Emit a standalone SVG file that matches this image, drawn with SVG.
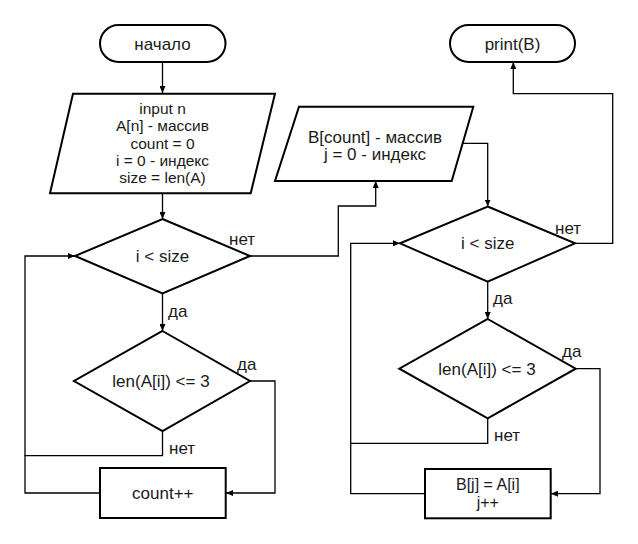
<svg xmlns="http://www.w3.org/2000/svg" width="638" height="544" viewBox="0 0 638 544">
<style>
.s{fill:#fff;stroke:#000;stroke-width:2}
.c{fill:none;stroke:#000;stroke-width:1.3}
text{font-family:"Liberation Sans",Arial,sans-serif;font-size:17px;fill:#1a1a1a}
.m{text-anchor:middle}
.sm{font-size:15.5px}
.b{font-size:16px}
</style>
<defs>
<marker id="a" markerUnits="userSpaceOnUse" markerWidth="8" markerHeight="6" refX="7" refY="3" orient="auto">
<path d="M0,0 L7,3 L0,6 z" fill="#000"/>
</marker>
</defs>
<rect width="638" height="544" fill="#fff"/>
<g id="connectors">
<path class="c" d="M162.5,62 V93" marker-end="url(#a)"/>
<path class="c" d="M162.5,193.5 V219" marker-end="url(#a)"/>
<path class="c" d="M162.5,293.5 V331" marker-end="url(#a)"/>
<path class="c" d="M162.5,431 V455.7 H25 V256 H75" marker-end="url(#a)"/>
<path class="c" d="M100,493 H25 V455"/>
<path class="c" d="M250,381 H275 V493 H226" marker-end="url(#a)"/>
<path class="c" d="M250,256 H338.3 V206 H375.7 V181" marker-end="url(#a)"/>
<path class="c" d="M463,143.3 H487.7 V206.5" marker-end="url(#a)"/>
<path class="c" d="M575,243.3 H612.7 V93.7 H513.3 V62" marker-end="url(#a)"/>
<path class="c" d="M487.7,281.7 V319" marker-end="url(#a)"/>
<path class="c" d="M487.7,418.3 V443.3 H350.7 V243.3 H400" marker-end="url(#a)"/>
<path class="c" d="M425,493.7 H350.7 V443"/>
<path class="c" d="M575.7,368.7 H600 V493.7 H551" marker-end="url(#a)"/>
<text x="229" y="245">нет</text>
<text x="168" y="316.7">да</text>
<text x="237" y="370">да</text>
<text x="169" y="454">нет</text>
<text x="555" y="233.7">нет</text>
<text x="493" y="304">да</text>
<text x="562" y="357">да</text>
<text x="494" y="441">нет</text>
</g>
<g id="start">
<rect class="s" x="100" y="25" width="125.5" height="37" rx="18.5"/>
<text class="m" x="162.5" y="49.5">начало</text>
</g>
<g id="input">
<polygon class="s" points="73,93.7 275,93.7 250.7,193.3 50,193.3"/>
<text class="m sm" x="162.5" y="114.3">input n</text>
<text class="m sm" x="162.5" y="131.4">A[n] - массив</text>
<text class="m sm" x="162.5" y="148.5">count = 0</text>
<text class="m sm" x="162.5" y="165.6">i = 0 - индекс</text>
<text class="m sm" x="162.5" y="182.7">size = len(A)</text>
</g>
<g id="cond1">
<polygon class="s" points="162.5,219 250,256 162.5,293.5 75,256"/>
<text class="m" x="162.5" y="262">i &lt; size</text>
</g>
<g id="cond2">
<polygon class="s" points="162.5,331 250,381 162.5,431 74,381"/>
<text class="m" x="161" y="387">len(A[i]) &lt;= 3</text>
</g>
<g id="count">
<rect class="s" x="100" y="468" width="125.7" height="50"/>
<text class="m" x="162.8" y="499">count++</text>
</g>
<g id="end">
<rect class="s" x="450" y="25" width="125" height="37" rx="18.5"/>
<text class="m" x="512.5" y="49.5">print(B)</text>
</g>
<g id="inputB">
<polygon class="s" points="299,106.7 473.3,106.7 451.7,181 275,181"/>
<text class="m" x="375" y="142.7">B[count] - массив</text>
<text class="m" x="375" y="160">j = 0 - индекс</text>
</g>
<g id="cond3">
<polygon class="s" points="487.7,206.5 575,243.3 487.7,281.7 400,243.3"/>
<text class="m" x="487.7" y="249.3">i &lt; size</text>
</g>
<g id="cond4">
<polygon class="s" points="487.7,319 575.7,368.7 487.7,418.3 399.3,368.7"/>
<text class="m" x="487" y="374.7">len(A[i]) &lt;= 3</text>
</g>
<g id="assign">
<rect class="s" x="425" y="469" width="125.7" height="49.3"/>
<text class="m b" x="487.8" y="489.5">B[j] = A[i]</text>
<text class="m b" x="487.8" y="508">j++</text>
</g>
</svg>
